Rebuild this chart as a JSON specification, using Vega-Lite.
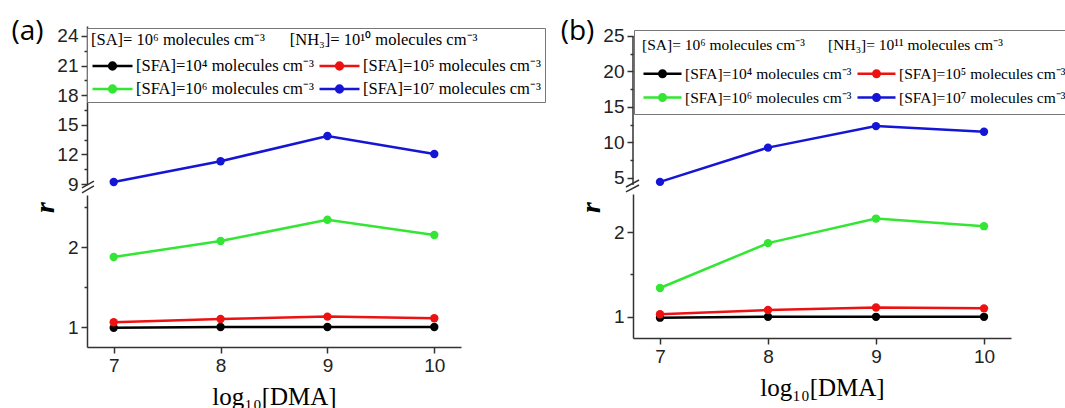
{
  "$schema": "https://vega.github.io/schema/vega-lite/v6.json",
  "background": "white",
  "padding": {"left": 10, "top": 17, "right": 0, "bottom": 0},
  "datasets": {
    "a": [
      {"dma": 7, "r": 0.99, "series": "[SFA]=10⁴ molecules cm⁻³"},
      {"dma": 8, "r": 1.0, "series": "[SFA]=10⁴ molecules cm⁻³"},
      {"dma": 9, "r": 1.0, "series": "[SFA]=10⁴ molecules cm⁻³"},
      {"dma": 10, "r": 1.0, "series": "[SFA]=10⁴ molecules cm⁻³"},
      {"dma": 7, "r": 1.06, "series": "[SFA]=10⁵ molecules cm⁻³"},
      {"dma": 8, "r": 1.1, "series": "[SFA]=10⁵ molecules cm⁻³"},
      {"dma": 9, "r": 1.13, "series": "[SFA]=10⁵ molecules cm⁻³"},
      {"dma": 10, "r": 1.11, "series": "[SFA]=10⁵ molecules cm⁻³"},
      {"dma": 7, "r": 1.875, "series": "[SFA]=10⁶ molecules cm⁻³"},
      {"dma": 8, "r": 2.075, "series": "[SFA]=10⁶ molecules cm⁻³"},
      {"dma": 9, "r": 2.34, "series": "[SFA]=10⁶ molecules cm⁻³"},
      {"dma": 10, "r": 2.15, "series": "[SFA]=10⁶ molecules cm⁻³"},
      {"dma": 7, "r": 9.2, "series": "[SFA]=10⁷ molecules cm⁻³"},
      {"dma": 8, "r": 11.3, "series": "[SFA]=10⁷ molecules cm⁻³"},
      {"dma": 9, "r": 13.86, "series": "[SFA]=10⁷ molecules cm⁻³"},
      {"dma": 10, "r": 12.04, "series": "[SFA]=10⁷ molecules cm⁻³"}
    ],
    "b": [
      {"dma": 7, "r": 0.99, "series": "[SFA]=10⁴ molecules cm⁻³"},
      {"dma": 8, "r": 1.0, "series": "[SFA]=10⁴ molecules cm⁻³"},
      {"dma": 9, "r": 1.0, "series": "[SFA]=10⁴ molecules cm⁻³"},
      {"dma": 10, "r": 1.0, "series": "[SFA]=10⁴ molecules cm⁻³"},
      {"dma": 7, "r": 1.03, "series": "[SFA]=10⁵ molecules cm⁻³"},
      {"dma": 8, "r": 1.08, "series": "[SFA]=10⁵ molecules cm⁻³"},
      {"dma": 9, "r": 1.11, "series": "[SFA]=10⁵ molecules cm⁻³"},
      {"dma": 10, "r": 1.1, "series": "[SFA]=10⁵ molecules cm⁻³"},
      {"dma": 7, "r": 1.34, "series": "[SFA]=10⁶ molecules cm⁻³"},
      {"dma": 8, "r": 1.87, "series": "[SFA]=10⁶ molecules cm⁻³"},
      {"dma": 9, "r": 2.16, "series": "[SFA]=10⁶ molecules cm⁻³"},
      {"dma": 10, "r": 2.07, "series": "[SFA]=10⁶ molecules cm⁻³"},
      {"dma": 7, "r": 4.44, "series": "[SFA]=10⁷ molecules cm⁻³"},
      {"dma": 8, "r": 9.27, "series": "[SFA]=10⁷ molecules cm⁻³"},
      {"dma": 9, "r": 12.3, "series": "[SFA]=10⁷ molecules cm⁻³"},
      {"dma": 10, "r": 11.5, "series": "[SFA]=10⁷ molecules cm⁻³"}
    ]
  },
  "config": {
    "view": {"stroke": null},
    "axis": {"domainColor": "#333", "domainWidth": 1.5, "tickColor": "#333", "tickWidth": 1.5, "labelFont": "Liberation Sans", "labelFontSize": 19, "labelColor": "#222", "grid": false, "labelPadding": 3, "labelOverlap": false, "tickCount": 40},
    "legend": {
      "orient": "none", "direction": "horizontal",
      "columns": 2, "columnPadding": 0, "rowPadding": 4,
      "symbolType": "M-1,0H3M0.66,0A0.34,0.34,0,1,1,1.34,0A0.34,0.34,0,1,1,0.66,0",
      "symbolStrokeWidth": 2.5,
      "labelFont": "Liberation Serif", "labelColor": "#000", "labelLimit": 500,
      "titleFont": "Liberation Serif", "titleFontWeight": "normal", "titleColor": "#000", "titleLimit": 700,
      "strokeColor": "#777", "fillColor": "#fff"
    }
  },
  "resolve": {"scale": {"color": "independent"}, "legend": {"color": "independent"}},
  "spacing": 14,
  "hconcat": [
    {
      "bounds": "flush",
      "spacing": 11,
      "resolve": {"scale": {"color": "independent"}, "legend": {"color": "independent"}},
      "vconcat": [
        {
          "width": 374, "height": 158,
          "data": {"name": "a"},
          "layer": [
            {
              "transform": [{"filter": {"field": "series", "equal": "[SFA]=10⁷ molecules cm⁻³"}}],
              "mark": {"type": "line", "strokeWidth": 2.5, "point": {"filled": true, "size": 70}},
              "encoding": {
                "x": {"field": "dma", "type": "quantitative", "scale": {"domain": [6.75, 10.25], "nice": false, "zero": false}, "axis": null},
                "y": {"field": "r", "type": "quantitative", "scale": {"domain": [9, 25], "nice": false, "zero": false},
                  "axis": {"values": [9, 10.5, 12, 13.5, 15, 16.5, 18, 19.5, 21, 22.5, 24], "tickCount": 40, "format": "d", "labelOverlap": false,
                    "labelExpr": "datum.value % 3 == 0 ? datum.label : ''",
                    "tickSize": {"condition": {"test": "datum.value % 3 == 0", "value": 6}, "value": 3},
                    "title": "(a)", "titleAngle": 0, "titleX": -60, "titleY": 5, "titleAlign": "center", "titleBaseline": "middle",
                    "titleFont": "Open Sans", "titleFontSize": 28, "titleFontWeight": "normal", "titleColor": "#000"}},
                "color": {"field": "series", "type": "nominal",
                  "scale": {"domain": ["[SFA]=10⁴ molecules cm⁻³", "[SFA]=10⁵ molecules cm⁻³", "[SFA]=10⁶ molecules cm⁻³", "[SFA]=10⁷ molecules cm⁻³"], "range": ["#000000", "#ee1111", "#33e633", "#1515d6"]},
                  "legend": {
                    "title": "[SA]= 10⁶ molecules cm⁻³\u00a0\u00a0\u00a0\u00a0\u00a0\u00a0[NH₃]= 10¹⁰ molecules cm⁻³",
                    "legendX": 0, "legendY": 2,
                    "symbolSize": 400, "labelOffset": 22, "labelFontSize": 16.5, "titleFontSize": 16.5,
                    "padding": 4, "titlePadding": 6, "rowPadding": 3
                  }}
              }
            },
            {
              "data": {"values": [{}]},
              "mark": {"type": "rule", "color": "#333", "strokeWidth": 1.5},
              "encoding": {"x": {"datum": 6.703, "type": "quantitative"}, "x2": {"datum": 6.815}, "y": {"datum": 8.6, "type": "quantitative"}, "y2": {"datum": 9.3}}
            },
            {
              "data": {"values": [{}]},
              "mark": {"type": "rule", "color": "#333", "strokeWidth": 1.5},
              "encoding": {"x": {"datum": 6.703, "type": "quantitative"}, "x2": {"datum": 6.815}, "y": {"datum": 8.1, "type": "quantitative"}, "y2": {"datum": 8.8}}
            }
          ]
        },
        {
          "width": 374, "height": 152,
          "data": {"name": "a"},
          "transform": [{"filter": {"not": {"field": "series", "equal": "[SFA]=10⁷ molecules cm⁻³"}}}],
          "resolve": {"axis": {"y": "independent"}},
          "layer": [
            {
              "mark": {"type": "line", "strokeWidth": 2.5, "point": {"filled": true, "size": 70}},
              "encoding": {
                "x": {"field": "dma", "type": "quantitative", "scale": {"domain": [6.75, 10.25], "nice": false, "zero": false},
                  "axis": {"values": [7, 8, 9, 10], "tickCount": 40, "format": "d", "tickSize": 6, "labelPadding": 3, "labelOverlap": false, "title": "log₁₀[DMA]", "titleFont": "Liberation Serif", "titleFontSize": 25, "titleFontWeight": "normal", "titleColor": "#000", "titlePadding": 9}},
                "y": {"field": "r", "type": "quantitative", "scale": {"domain": [0.75, 2.65], "nice": false, "zero": false},
                  "axis": {"values": [1, 2], "tickCount": 40, "format": "d", "labelOverlap": false, "tickSize": 6,
                    "title": "r", "titleAngle": 270, "titleX": -42, "titleY": 12, "titleAlign": "center", "titleBaseline": "middle",
                    "titleFont": "Liberation Serif", "titleFontStyle": "italic", "titleFontWeight": "bold", "titleFontSize": 28, "titleColor": "#000"}},
                "color": {"field": "series", "type": "nominal",
                  "scale": {"domain": ["[SFA]=10⁴ molecules cm⁻³", "[SFA]=10⁵ molecules cm⁻³", "[SFA]=10⁶ molecules cm⁻³", "[SFA]=10⁷ molecules cm⁻³"], "range": ["#000000", "#ee1111", "#33e633", "#1515d6"]},
                  "legend": null}
              }
            },
            {
              "mark": {"type": "point", "opacity": 0},
              "encoding": {
                "x": {"field": "dma", "type": "quantitative"},
                "y": {"field": "r", "type": "quantitative",
                  "axis": {"orient": "left", "values": [1.5, 2.5], "tickCount": 40, "labels": false, "domain": false, "tickSize": 3, "title": null}}
              }
            }
          ]
        }
      ]
    },
    {
      "bounds": "flush",
      "spacing": 9,
      "resolve": {"scale": {"color": "independent"}, "legend": {"color": "independent"}},
      "vconcat": [
        {
          "width": 378, "height": 159,
          "data": {"name": "b"},
          "layer": [
            {
              "transform": [{"filter": {"field": "series", "equal": "[SFA]=10⁷ molecules cm⁻³"}}],
              "mark": {"type": "line", "strokeWidth": 2.5, "point": {"filled": true, "size": 70}},
              "encoding": {
                "x": {"field": "dma", "type": "quantitative", "scale": {"domain": [6.75, 10.25], "nice": false, "zero": false}, "axis": null},
                "y": {"field": "r", "type": "quantitative", "scale": {"domain": [4, 26.4], "nice": false, "zero": false},
                  "axis": {"values": [5, 7.5, 10, 12.5, 15, 17.5, 20, 22.5, 25], "tickCount": 40, "format": "d", "domain": false, "labelOverlap": false,
                    "labelExpr": "datum.value % 5 == 0 ? datum.label : ''",
                    "tickSize": {"condition": {"test": "datum.value % 5 == 0", "value": 6}, "value": 3},
                    "title": "(b)", "titleAngle": 0, "titleX": -56, "titleY": 5, "titleAlign": "center", "titleBaseline": "middle",
                    "titleFont": "Open Sans", "titleFontSize": 28, "titleFontWeight": "normal", "titleColor": "#000"}},
                "color": {"field": "series", "type": "nominal",
                  "scale": {"domain": ["[SFA]=10⁴ molecules cm⁻³", "[SFA]=10⁵ molecules cm⁻³", "[SFA]=10⁶ molecules cm⁻³", "[SFA]=10⁷ molecules cm⁻³"], "range": ["#000000", "#ee1111", "#33e633", "#1515d6"]},
                  "legend": {
                    "title": "[SA]= 10⁶ molecules cm⁻³\u00a0\u00a0\u00a0\u00a0\u00a0\u00a0[NH₃]= 10¹¹ molecules cm⁻³",
                    "legendX": 1, "legendY": 4,
                    "symbolSize": 361, "labelOffset": 21, "labelFontSize": 15.5, "titleFontSize": 15.5,
                    "padding": 8, "titlePadding": 9, "rowPadding": 4
                  }}
              }
            },
            {
              "data": {"values": [{}]},
              "mark": {"type": "rule", "color": "#333", "strokeWidth": 1.5},
              "encoding": {"x": {"datum": 6.75, "type": "quantitative"}, "y": {"datum": 4, "type": "quantitative"}, "y2": {"datum": 25}}
            },
            {
              "data": {"values": [{}]},
              "mark": {"type": "rule", "color": "#333", "strokeWidth": 1.5},
              "encoding": {"x": {"datum": 6.685, "type": "quantitative"}, "x2": {"datum": 6.806}, "y": {"datum": 3.72, "type": "quantitative"}, "y2": {"datum": 4.7}}
            },
            {
              "data": {"values": [{}]},
              "mark": {"type": "rule", "color": "#333", "strokeWidth": 1.5},
              "encoding": {"x": {"datum": 6.685, "type": "quantitative"}, "x2": {"datum": 6.806}, "y": {"datum": 3.02, "type": "quantitative"}, "y2": {"datum": 4.0}}
            }
          ]
        },
        {
          "width": 378, "height": 144,
          "data": {"name": "b"},
          "transform": [{"filter": {"not": {"field": "series", "equal": "[SFA]=10⁷ molecules cm⁻³"}}}],
          "resolve": {"axis": {"y": "independent"}},
          "layer": [
            {
              "mark": {"type": "line", "strokeWidth": 2.5, "point": {"filled": true, "size": 70}},
              "encoding": {
                "x": {"field": "dma", "type": "quantitative", "scale": {"domain": [6.75, 10.25], "nice": false, "zero": false},
                  "axis": {"values": [7, 8, 9, 10], "tickCount": 40, "format": "d", "tickSize": 6, "labelPadding": 3, "labelOverlap": false, "title": "log₁₀[DMA]", "titleFont": "Liberation Serif", "titleFontSize": 25, "titleFontWeight": "normal", "titleColor": "#000", "titlePadding": 9}},
                "y": {"field": "r", "type": "quantitative", "scale": {"domain": [0.75, 2.45], "nice": false, "zero": false},
                  "axis": {"values": [1, 2], "tickCount": 40, "format": "d", "labelOverlap": false, "tickSize": 6,
                    "title": "r", "titleAngle": 270, "titleX": -42, "titleY": 13, "titleAlign": "center", "titleBaseline": "middle",
                    "titleFont": "Liberation Serif", "titleFontStyle": "italic", "titleFontWeight": "bold", "titleFontSize": 28, "titleColor": "#000"}},
                "color": {"field": "series", "type": "nominal",
                  "scale": {"domain": ["[SFA]=10⁴ molecules cm⁻³", "[SFA]=10⁵ molecules cm⁻³", "[SFA]=10⁶ molecules cm⁻³", "[SFA]=10⁷ molecules cm⁻³"], "range": ["#000000", "#ee1111", "#33e633", "#1515d6"]},
                  "legend": null}
              }
            },
            {
              "mark": {"type": "point", "opacity": 0},
              "encoding": {
                "x": {"field": "dma", "type": "quantitative"},
                "y": {"field": "r", "type": "quantitative",
                  "axis": {"orient": "left", "values": [1.5], "tickCount": 40, "labels": false, "domain": false, "tickSize": 3, "title": null}}
              }
            }
          ]
        }
      ]
    }
  ]
}
